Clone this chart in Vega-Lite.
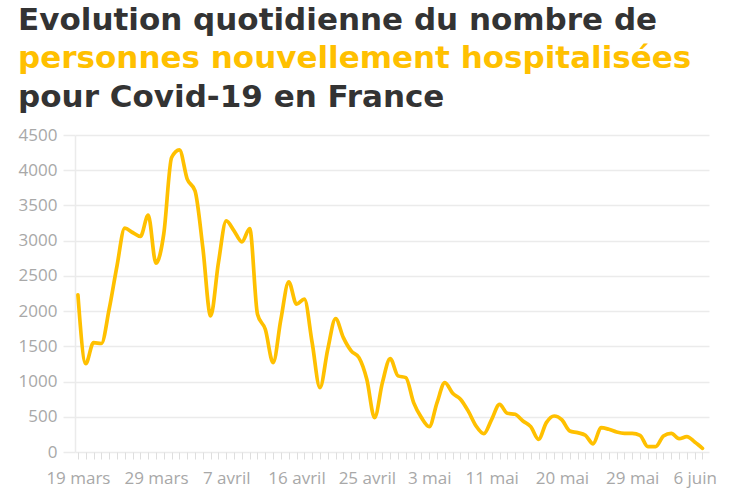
{
  "$schema": "https://vega.github.io/schema/vega-lite/v6.json",
  "background": "white",
  "padding": {"left": 18, "top": 5, "right": 10, "bottom": 2},
  "title": {
    "text": "Evolution quotidienne du nombre de",
    "subtitle": "personnes nouvellement hospitalisées",
    "anchor": "start",
    "frame": "bounds",
    "font": "DejaVu Sans",
    "fontSize": 31,
    "fontWeight": "bold",
    "color": "#333333",
    "subtitleFont": "DejaVu Sans",
    "subtitleFontSize": 31,
    "subtitleFontWeight": "bold",
    "subtitleColor": "#FFC000",
    "subtitlePadding": 7,
    "offset": 7
  },
  "config": {
    "view": {"stroke": null},
    "concat": {"spacing": 0}
  },
  "vconcat": [
    {
      "width": 634,
      "height": 317,
      "title": {
        "text": "pour Covid-19 en France",
        "anchor": "start",
        "frame": "bounds",
        "font": "DejaVu Sans",
        "fontSize": 31,
        "fontWeight": "bold",
        "color": "#333333",
        "offset": 12
      },
      "data": {
        "values": [
          {"date": "2020/03/19", "n": 2230},
          {"date": "2020/03/20", "n": 1255},
          {"date": "2020/03/21", "n": 1553},
          {"date": "2020/03/22", "n": 1540},
          {"date": "2020/03/23", "n": 2027},
          {"date": "2020/03/24", "n": 2640},
          {"date": "2020/03/25", "n": 3177},
          {"date": "2020/03/26", "n": 3116},
          {"date": "2020/03/27", "n": 3059},
          {"date": "2020/03/28", "n": 3362},
          {"date": "2020/03/29", "n": 2680},
          {"date": "2020/03/30", "n": 3100},
          {"date": "2020/03/31", "n": 4181},
          {"date": "2020/04/01", "n": 4290},
          {"date": "2020/04/02", "n": 3873},
          {"date": "2020/04/03", "n": 3707},
          {"date": "2020/04/04", "n": 2900},
          {"date": "2020/04/05", "n": 1932},
          {"date": "2020/04/06", "n": 2690},
          {"date": "2020/04/07", "n": 3281},
          {"date": "2020/04/08", "n": 3139},
          {"date": "2020/04/09", "n": 2983},
          {"date": "2020/04/10", "n": 3172},
          {"date": "2020/04/11", "n": 1955},
          {"date": "2020/04/12", "n": 1742},
          {"date": "2020/04/13", "n": 1269},
          {"date": "2020/04/14", "n": 1885},
          {"date": "2020/04/15", "n": 2415},
          {"date": "2020/04/16", "n": 2098},
          {"date": "2020/04/17", "n": 2169},
          {"date": "2020/04/18", "n": 1553},
          {"date": "2020/04/19", "n": 914},
          {"date": "2020/04/20", "n": 1458},
          {"date": "2020/04/21", "n": 1894},
          {"date": "2020/04/22", "n": 1624},
          {"date": "2020/04/23", "n": 1435},
          {"date": "2020/04/24", "n": 1340},
          {"date": "2020/04/25", "n": 1032},
          {"date": "2020/04/26", "n": 488},
          {"date": "2020/04/27", "n": 985},
          {"date": "2020/04/28", "n": 1326},
          {"date": "2020/04/29", "n": 1080},
          {"date": "2020/04/30", "n": 1056},
          {"date": "2020/05/01", "n": 701},
          {"date": "2020/05/02", "n": 488},
          {"date": "2020/05/03", "n": 360},
          {"date": "2020/05/04", "n": 701},
          {"date": "2020/05/05", "n": 985},
          {"date": "2020/05/06", "n": 833},
          {"date": "2020/05/07", "n": 750},
          {"date": "2020/05/08", "n": 580},
          {"date": "2020/05/09", "n": 369},
          {"date": "2020/05/10", "n": 260},
          {"date": "2020/05/11", "n": 464},
          {"date": "2020/05/12", "n": 677},
          {"date": "2020/05/13", "n": 549},
          {"date": "2020/05/14", "n": 535},
          {"date": "2020/05/15", "n": 440},
          {"date": "2020/05/16", "n": 360},
          {"date": "2020/05/17", "n": 180},
          {"date": "2020/05/18", "n": 417},
          {"date": "2020/05/19", "n": 511},
          {"date": "2020/05/20", "n": 455},
          {"date": "2020/05/21", "n": 298},
          {"date": "2020/05/22", "n": 275},
          {"date": "2020/05/23", "n": 237},
          {"date": "2020/05/24", "n": 115},
          {"date": "2020/05/25", "n": 346},
          {"date": "2020/05/26", "n": 322},
          {"date": "2020/05/27", "n": 284},
          {"date": "2020/05/28", "n": 265},
          {"date": "2020/05/29", "n": 265},
          {"date": "2020/05/30", "n": 237},
          {"date": "2020/05/31", "n": 76},
          {"date": "2020/06/01", "n": 76},
          {"date": "2020/06/02", "n": 227},
          {"date": "2020/06/03", "n": 265},
          {"date": "2020/06/04", "n": 189},
          {"date": "2020/06/05", "n": 218},
          {"date": "2020/06/06", "n": 142},
          {"date": "2020/06/07", "n": 52}
        ]
      },
      "mark": {
        "type": "line",
        "color": "#FFC000",
        "strokeWidth": 3.7,
        "interpolate": "monotone",
        "strokeCap": "round",
        "strokeJoin": "round"
      },
      "encoding": {
        "x": {
          "field": "date",
          "type": "temporal",
          "title": null,
          "scale": {
            "domain": [
              {"year": 2020, "month": 3, "date": 18, "hours": 15},
              {"year": 2020, "month": 6, "date": 7, "hours": 20}
            ]
          },
          "axis": {
            "tickCount": {"interval": "day", "step": 1},
            "grid": false,
            "domain": false,
            "ticks": true,
            "tickSize": 7,
            "tickColor": "#dedede",
            "tickWidth": 1,
            "labelPadding": 11,
            "labelOverlap": false,
            "labelFlush": false,
            "labelFont": "Open Sans",
            "labelFontSize": 17,
            "labelColor": "#a8a8a8",
            "labelExpr": "indexof(['2-19','2-29','3-7','3-16','3-25','4-3','4-11','4-20','4-29','5-6'], month(datum.value) + '-' + date(datum.value)) >= 0 ? date(datum.value) + ' ' + ['janv','févr','mars','avril','mai','juin'][month(datum.value)] : ''"
          }
        },
        "y": {
          "field": "n",
          "type": "quantitative",
          "title": null,
          "scale": {"domain": [0, 4500]},
          "axis": {
            "values": [0, 500, 1000, 1500, 2000, 2500, 3000, 3500, 4000, 4500],
            "format": "d",
            "grid": true,
            "gridColor": "#ebebeb",
            "gridWidth": 1.5,
            "domain": true,
            "domainColor": "#ebebeb",
            "domainWidth": 1.5,
            "ticks": true,
            "tickSize": 12,
            "tickColor": "#ebebeb",
            "tickWidth": 1.5,
            "labelPadding": 6,
            "labelFont": "Open Sans",
            "labelFontSize": 17,
            "labelColor": "#a8a8a8"
          }
        }
      }
    }
  ]
}
